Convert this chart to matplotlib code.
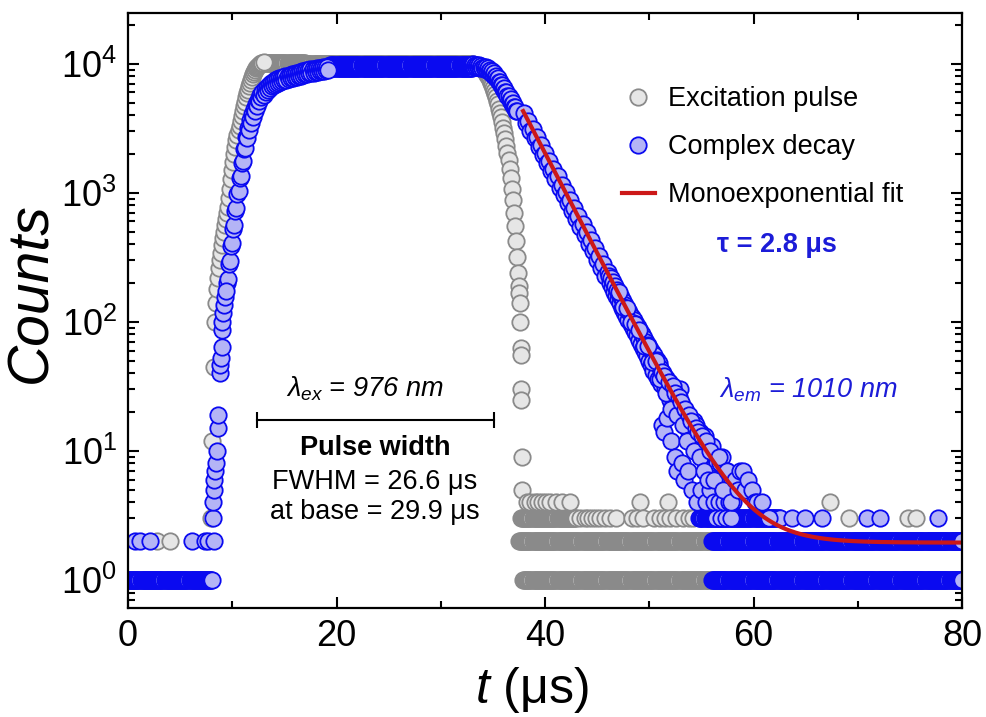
import numpy as np
import matplotlib
matplotlib.use("Agg")
import matplotlib.pyplot as plt
from matplotlib.lines import Line2D
from matplotlib.ticker import LogLocator, MultipleLocator, NullFormatter

plt.rcParams['font.family'] = ['Liberation Sans', 'DejaVu Sans']
plt.rcParams['mathtext.fontset'] = 'custom'
plt.rcParams['mathtext.rm'] = 'Liberation Sans'
plt.rcParams['mathtext.it'] = 'Liberation Sans:italic'
plt.rcParams['mathtext.bf'] = 'Liberation Sans:bold'

DT = 0.1  # channel width used for the flat, densely sampled rows (us)

# ---- Excitation pulse (grey) ----
# flat rows: (t from, t to, counts)
exc_rows = [(0.0, 7.9, 1), (37.9, 80.0, 1), (37.5, 80.0, 2), (37.7, 43.0, 3),
            (13.1, 17.0, 10200), (17.1, 33.0, 9900)]
# sampled parts: (first t, step, counts)
exc_rise = (8.0, 0.1, [3, 12, 45, 100, 140, 180, 220, 260, 300, 345, 395, 450,
                       500, 560, 630, 700, 780, 920, 1080, 1280, 1500, 1750,
                       2000, 2280, 2570, 2800, 3050, 3300, 3600, 3950, 4300,
                       4700, 5100, 5500, 5900, 6300, 6700, 7100, 7500, 7900,
                       8300, 8600, 8900, 9200, 9450, 9700, 9850, 10000, 10100,
                       10200, 10300])
exc_fall = (33.1, 0.1, [9900, 9850, 9800, 9750, 9700, 9600, 9500, 9380, 9250,
                        9100, 8920, 8720, 8500, 8260, 8000, 7720, 7430, 7130,
                        6820, 6500, 6180, 5850, 5520, 5180, 4840, 4500, 4170,
                        3840, 3520, 3200, 2900, 2600, 2320, 2050, 1790, 1540,
                        1300, 1080, 880, 700, 550, 420, 320, 240, 190])
exc_extra_t = [2.8, 4.0, 37.55, 37.6, 37.6, 37.65, 37.65, 37.7, 37.7, 37.75, 37.8,
               38.3, 38.6, 39.0, 39.3, 39.7, 40.1, 40.5, 41.1, 41.6, 42.4, 49.1, 51.8, 67.3,
               43.4, 43.8, 44.1, 44.5, 44.9, 45.3, 45.8, 46.2, 46.8, 48.3, 48.8, 49.4,
               50.5, 51.0, 51.5, 52.0, 52.6, 53.2, 53.8, 54.2, 69.2, 74.8, 75.6]
exc_extra_c = [2, 2, 167, 140, 100, 63, 55, 30, 25, 9, 5,
               4, 4, 4, 4, 4, 4, 4, 4, 4, 4, 4, 4, 4,
               3, 3, 3, 3, 3, 3, 3, 3, 3, 3, 3, 3,
               3, 3, 3, 3, 3, 3, 3, 3, 3, 3, 3]

# ---- Complex decay (blue) ----
dec_rows = [(0.0, 8.05, 1), (56.0, 80.0, 1), (56.0, 80.0, 2), (54.8, 62.5, 3),
            (19.4, 33.0, 9350), (19.4, 33.0, 9750)]
dec_rise = (9.5, 0.1, [200, 215, 280, 295, 385, 410, 525, 560, 725, 760, 975,
                       1030, 1310, 1360, 1710, 1760, 2180, 2210, 2700, 2660,
                       3180, 3090, 3640, 3500, 4070, 3880])
dec_plateau = (12.1, 0.1, [4450, 4330, 4860, 4720, 5280, 5110, 5690, 5500, 6050, 5780,
                           6360, 6080, 6640, 6310, 6880, 6510, 7090, 6710, 7290, 6870,
                           7450, 7010, 7570, 7120, 7700, 7240, 7810, 7330, 7910, 7430,
                           8010, 7530, 8110, 7620, 8220, 7720, 8310, 7800, 8390, 7880,
                           8470, 7950, 8560, 8030, 8640, 8110, 8720, 8190, 8800, 8270,
                           8880, 8340, 8960, 8420, 9040, 8500, 9110, 8560, 9170, 8620,
                           9240, 8680, 9300, 8740, 9350, 8800, 9400, 8860, 9450, 8920,
                           9500, 8980])
dec_fall = (33.1, 0.1, [9900, 9500, 9860, 9450, 9800, 9400, 9730, 9310, 9640, 9210,
                        9530, 9090, 9390, 8940, 9210, 8750, 9000, 8530, 8730, 8250,
                        8430, 7940, 8080, 7590, 7700, 7200, 7290, 6810, 6890, 6420,
                        6480, 6030, 6070, 5640, 5670, 5270, 5300, 4920, 4950, 4590,
                        4610, 4280, 4310])
dec_decay1 = (38.0, 0.2, [4150, 3500, 3600, 3020, 3130, 2640, 2700, 2270, 2350, 1960,
                          2040, 1700, 1780, 1470, 1540, 1280, 1340, 1100, 1160, 960,
                          1010, 830, 875, 720, 760, 625, 660, 540, 572, 468,
                          496, 405, 432, 352, 375, 304, 326, 264, 283, 228, 245])
dec_decay2 = (46.1, 0.1, [228, 199, 220, 185, 204, 172, 190, 160, 178,
                          150, 166, 139, 155, 129, 146, 120, 135, 112, 127,
                          104, 119, 97, 110, 90, 103, 84, 96, 79, 91,
                          72, 85, 68, 80, 63, 75, 58, 70, 54, 66,
                          50, 62, 46, 58, 42, 55, 39, 51, 36, 48,
                          44, 33, 16, 40, 14, 31, 37, 18, 29, 34,
                          25, 12, 30, 23, 27, 9, 21, 7, 25, 30,
                          19, 8, 22, 6, 17, 20, 15, 7, 18, 13,
                          16, 5, 13, 17, 11, 16, 4, 12, 10, 14,
                          5, 11, 9, 13, 4, 10, 8, 11, 5, 9,
                          11, 7, 4, 9, 3, 8, 6, 4, 8, 3,
                          9, 5, 4, 6, 3, 7, 4, 5, 3, 6,
                          4])
dec_extra_t = [0.7, 1.15, 2.1, 6.1, 7.4, 7.7, 8.2,
               8.15, 8.15, 8.2, 8.25, 8.3, 8.4, 8.5, 8.6, 8.65, 8.8, 8.85, 8.9,
               9.0, 9.0, 9.05, 9.1, 9.2, 9.3, 9.4,
               47.05, 47.45, 47.85, 48.25, 48.65, 49.05, 49.45, 49.85, 50.25, 50.65,
               51.05, 51.25, 51.45, 51.65, 51.85, 52.05, 52.25, 52.45, 52.65, 52.85,
               53.05, 53.25, 53.45, 53.65, 53.85, 54.05, 54.25, 54.45, 54.65, 54.85,
               55.05, 55.25, 55.45, 55.65, 55.85, 56.25, 56.65, 57.05, 57.45, 57.85,
               58.2, 58.5, 58.7, 59.0, 59.2, 59.5, 59.9, 60.1, 60.3, 60.8, 61.5,
               63.7, 64.9, 66.6, 70.9, 72.1, 77.7]
dec_extra_c = [2, 2, 2, 2, 2, 2, 2,
               3, 4, 5, 6, 7, 8, 10, 15, 19, 40, 46, 53,
               64, 87, 100, 117, 135, 156, 175,
               170, 131, 128, 99, 97, 86, 65, 65, 49, 50,
               36, 41, 38, 28, 34, 21, 32, 28, 19, 26,
               24, 16, 21, 12, 19, 17, 10, 15, 14, 9,
               13, 7, 12, 6, 10, 6, 9, 5, 7, 4,
               6, 5, 7, 7, 5, 6, 5, 4, 4, 4, 3,
               3, 3, 3, 3, 3, 3]

# monoexponential fit, tau = 2.8 us
FIT_T0, FIT_A, FIT_TAU, FIT_Y0 = 37.9, 4300.0, 2.8, 1.95


def expand(rows, segments, extra_t, extra_c):
    ts, cs = [], []
    for t_from, t_to, c in rows:
        tt = np.arange(t_from, t_to + DT / 2, DT)
        ts.append(tt)
        cs.append(np.full(tt.size, float(c)))
    for t0, step, vals in segments:
        ts.append(t0 + step * np.arange(len(vals)))
        cs.append(np.asarray(vals, float))
    ts.append(np.asarray(extra_t, float))
    cs.append(np.asarray(extra_c, float))
    return np.concatenate(ts), np.concatenate(cs)


exc_t, exc_c = expand(exc_rows, [exc_rise, exc_fall], exc_extra_t, exc_extra_c)
dec_t, dec_c = expand(dec_rows, [dec_rise, dec_plateau, dec_fall, dec_decay1, dec_decay2],
                      dec_extra_t, dec_extra_c)
fit_t = np.linspace(FIT_T0, 80, 400)
fit_c = FIT_A * np.exp(-(fit_t - FIT_T0) / FIT_TAU) + FIT_Y0

GREY_FACE, GREY_EDGE = '#e6e6e6', '#8a8a8a'
BLUE_FACE, BLUE_EDGE = '#b4b4f6', '#0a0af0'
RED = '#cc1818'
TXT_BLUE = '#1c1cd8'
MS, MEW = 11.8, 1.3

fig = plt.figure(figsize=(9.87, 7.17), dpi=100)
ax = fig.add_axes([0.1297, 0.152, 0.845, 0.830])

ax.plot(exc_t, exc_c, 'o', ms=MS, mfc=GREY_FACE, mec=GREY_EDGE, mew=MEW, ls='none')
ax.plot(dec_t, dec_c, 'o', ms=MS, mfc=BLUE_FACE, mec=BLUE_EDGE, mew=MEW, ls='none')
ax.plot(fit_t, fit_c, '-', color=RED, lw=3.0)

ax.set_yscale('log')
ax.set_xlim(0, 80)
ax.set_ylim(0.607, 2.48e4)
ax.xaxis.set_major_locator(MultipleLocator(20))
ax.xaxis.set_minor_locator(MultipleLocator(10))
ax.yaxis.set_major_locator(LogLocator(base=10, numticks=10))
ax.yaxis.set_minor_locator(LogLocator(base=10, subs=np.arange(2, 10), numticks=20))
ax.yaxis.set_minor_formatter(NullFormatter())
ax.tick_params(which='both', direction='in', top=True, right=True, width=1.5)
ax.tick_params(which='major', length=8, labelsize=26, pad=8)
ax.tick_params(which='minor', length=5)
for s in ax.spines.values():
    s.set_linewidth(1.6)

ax.set_ylabel('Counts', fontsize=41, style='italic')
ax.yaxis.set_label_coords(-0.083, 0.53)
ax.set_xlabel(r'$t$ ($\mathrm{\mu}$s)', fontsize=36)
ax.xaxis.set_label_coords(0.484, -0.095)

handles = [Line2D([], [], marker='o', ls='none', ms=MS, mfc=GREY_FACE, mec=GREY_EDGE, mew=MEW),
           Line2D([], [], marker='o', ls='none', ms=MS, mfc=BLUE_FACE, mec=BLUE_EDGE, mew=MEW),
           Line2D([], [], color=RED, lw=3.0)]
ax.legend(handles, ['Excitation pulse', 'Complex decay', 'Monoexponential fit'],
          loc='upper left', bbox_to_anchor=(0.630, 0.880), bbox_transform=fig.transFigure,
          frameon=False, fontsize=19.5, handlelength=1.22, handletextpad=0.5,
          labelspacing=0.82, borderpad=0, borderaxespad=0)

ax.text(62.2, 395, 'τ = 2.8 μs', color=TXT_BLUE, fontsize=19.5, fontweight='bold',
        ha='center', va='center')
ax.text(65.3, 30.0, r'$\lambda_{em}$ = 1010 nm', color=TXT_BLUE, fontsize=19.5,
        style='italic', ha='center', va='center')
ax.text(22.7, 30.5, r'$\lambda_{ex}$ = 976 nm', color='black', fontsize=19.5,
        style='italic', ha='center', va='center')
ax.plot([12.4, 35.1], [17.4, 17.4], color='black', lw=1.5, marker='|', ms=12, mew=1.5)
ax.text(23.7, 10.5, 'Pulse width', fontsize=19.5, fontweight='bold', ha='center', va='center')
ax.text(23.7, 5.75, 'FWHM = 26.6 μs', fontsize=19.5, ha='center', va='center')
ax.text(23.7, 3.37, 'at base = 29.9 μs', fontsize=19.5, ha='center', va='center')

fig.savefig('out.png', dpi=100)
